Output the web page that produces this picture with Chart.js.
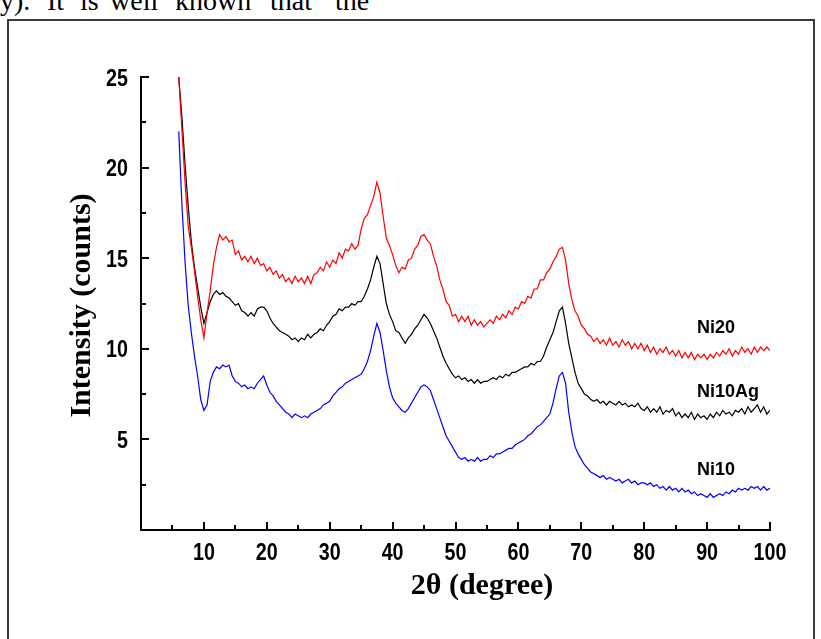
<!DOCTYPE html>
<html>
<head>
<meta charset="utf-8">
<title>XRD patterns</title>
<script src="https://cdn.jsdelivr.net/npm/chart.js@4.4.1/dist/chart.umd.min.js"></script>
<style>
	html, body { margin: 0; padding: 0; background: #fff; }
	#wrap { position: relative; width: 821px; height: 639px; overflow: hidden; }
	#frame { position: absolute; left: 7px; top: 19px; width: 804px; height: 700px; border: 2px solid #3a3a3a; }
	.word { position: absolute; top: -13px; font-family: "Liberation Serif", "Times New Roman", serif; font-size: 28px; line-height: 28px; white-space: pre; }
	canvas { position: absolute; left: 0; top: 0; }
</style>
</head>
<body>
<div id="wrap">
	<span class="word" style="left:0px">y).</span>
	<span class="word" style="left:47px">It</span>
	<span class="word" style="left:80px">is</span>
	<span class="word" style="left:110px">well</span>
	<span class="word" style="left:175px">known</span>
	<span class="word" style="left:270px">that</span>
	<span class="word" style="left:335px">the</span>
	<div id="frame"></div>
	<canvas id="xrdChart" width="821" height="639"></canvas>
</div>
<script>
// 2theta grid: first angle and step (degrees)
const thetaStart = 6;
const thetaStep = 0.5;

// intensities, one value per 0.5 degree from 6 to 100
const ni20 = [
	25.0, 22.1, 19.2, 16.8, 15.6, 14.3, 12.9, 11.6,
	10.6, 12.0, 13.2, 14.6, 15.6, 16.3, 16.0, 16.2, 15.9, 16.0, 15.2, 15.4, 14.9, 15.1, 14.8, 15.1, 14.7, 15.0, 14.6, 14.7,
	14.3, 14.5, 14.1, 14.3, 13.9, 14.1, 13.7, 13.9, 13.6, 14.0, 13.7, 13.9, 13.6, 14.0, 13.6, 14.1, 14.2, 14.5, 14.3, 14.8,
	14.5, 14.9, 14.7, 15.3, 15.0, 15.5, 15.4, 15.8, 15.5, 15.7, 16.6, 17.2, 17.4, 17.9, 18.4, 19.2, 18.6, 17.3, 16.1, 15.7,
	15.2, 14.6, 14.2, 14.5, 14.4, 14.9, 15.0, 15.5, 15.7, 16.2, 16.3, 16.0, 15.8, 15.1, 14.6, 13.8, 13.3, 12.6, 12.4, 11.8,
	11.9, 11.5, 11.8, 11.5, 11.8, 11.3, 11.6, 11.3, 11.5, 11.2, 11.4, 11.6, 11.4, 11.8, 11.6, 11.9, 11.7, 12.1, 11.9, 12.3,
	12.2, 12.6, 12.5, 12.9, 12.8, 13.3, 13.3, 13.8, 13.8, 14.2, 14.4, 14.8, 15.1, 15.5, 15.6, 14.9, 13.6, 12.7, 12.1, 11.8,
	11.3, 11.1, 10.8, 10.7, 10.4, 10.6, 10.3, 10.5, 10.2, 10.6, 10.2, 10.4, 10.1, 10.5, 10.2, 10.4, 10.0, 10.3, 10.0, 10.3,
	9.9, 10.2, 9.8, 10.1, 9.7, 10.0, 9.8, 10.1, 9.7, 9.9, 9.6, 9.9, 9.5, 9.8, 9.5, 9.8, 9.4, 9.7, 9.5, 9.7,
	9.4, 9.7, 9.5, 9.8, 9.6, 9.9, 9.7, 10.0, 9.6, 9.9, 9.7, 10.1, 9.8, 10.0, 9.7, 10.1, 9.8, 10.1, 9.9, 10.1, 9.9
];
const ni10Ag = [
	25.0, 22.8, 20.2, 17.9, 15.9, 14.5, 13.4, 12.3,
	11.4, 12.0, 12.6, 13.0, 13.2, 13.0, 13.1, 12.9, 12.8, 12.6, 12.4, 12.5, 12.1, 12.0, 11.8, 12.0, 11.8, 12.2, 12.3, 12.3,
	12.1, 11.7, 11.4, 11.2, 11.0, 10.9, 10.8, 10.7, 10.5, 10.6, 10.4, 10.6, 10.5, 10.8, 10.6, 10.8, 10.9, 11.1, 11.0, 11.3,
	11.5, 11.8, 11.9, 12.2, 12.1, 12.3, 12.3, 12.5, 12.4, 12.6, 12.6, 12.9, 13.3, 13.8, 14.5, 15.1, 14.7, 13.6, 12.5, 11.9,
	11.5, 11.0, 10.9, 10.6, 10.3, 10.6, 10.8, 11.1, 11.3, 11.6, 11.9, 11.7, 11.4, 11.0, 10.6, 10.1, 9.6, 9.2, 8.9, 8.6,
	8.4, 8.5, 8.3, 8.4, 8.2, 8.3, 8.1, 8.3, 8.1, 8.2, 8.2, 8.3, 8.4, 8.3, 8.5, 8.4, 8.6, 8.5, 8.7, 8.7,
	8.8, 8.9, 9.0, 9.0, 9.2, 9.1, 9.3, 9.3, 9.6, 10.1, 10.5, 10.9, 11.5, 12.1, 12.3, 11.4, 10.3, 9.5, 8.7, 8.1,
	7.8, 7.5, 7.4, 7.2, 7.1, 7.2, 7.0, 7.1, 6.9, 7.1, 7.0, 6.9, 7.1, 6.9, 7.0, 6.8, 6.9, 6.8, 7.0, 6.7,
	6.6, 6.8, 6.5, 6.7, 6.5, 6.8, 6.4, 6.6, 6.5, 6.7, 6.3, 6.5, 6.2, 6.4, 6.2, 6.5, 6.1, 6.4, 6.2, 6.3,
	6.1, 6.4, 6.2, 6.5, 6.3, 6.6, 6.4, 6.5, 6.3, 6.6, 6.5, 6.7, 6.4, 6.8, 6.5, 6.7, 6.9, 6.5, 6.8, 6.4, 6.6
];
const ni10 = [
	22.0, 18.0, 14.8, 12.4, 10.9, 9.6, 8.5, 7.2,
	6.6, 6.9, 8.2, 8.7, 9.0, 8.9, 9.1, 9.0, 9.1, 8.5, 8.2, 8.1, 7.9, 8.0, 7.8, 7.9, 7.8, 8.1, 8.3, 8.5,
	8.0, 7.6, 7.4, 7.1, 6.9, 6.7, 6.5, 6.4, 6.2, 6.4, 6.3, 6.2, 6.3, 6.2, 6.4, 6.5, 6.6, 6.7, 6.9, 7.0,
	7.1, 7.4, 7.6, 7.8, 7.9, 8.1, 8.2, 8.3, 8.4, 8.5, 8.6, 8.9, 9.3, 9.9, 10.7, 11.4, 10.9, 9.9, 8.8, 7.9,
	7.3, 7.0, 6.8, 6.6, 6.5, 6.7, 7.0, 7.3, 7.6, 7.9, 8.0, 7.9, 7.7, 7.2, 6.7, 6.2, 5.7, 5.2, 4.9, 4.6,
	4.3, 4.0, 3.9, 4.0, 3.8, 3.9, 3.8, 4.0, 3.8, 3.9, 3.9, 4.1, 4.0, 4.2, 4.2, 4.3, 4.4, 4.5, 4.5, 4.7,
	4.8, 4.9, 5.0, 5.2, 5.3, 5.5, 5.7, 5.8, 6.0, 6.2, 6.4, 7.0, 7.8, 8.5, 8.7, 8.1, 6.5, 5.4, 4.6, 4.2,
	3.9, 3.6, 3.4, 3.2, 3.1, 3.0, 2.9, 3.0, 2.8, 2.9, 2.8, 2.7, 2.8, 2.6, 2.7, 2.8, 2.6, 2.7, 2.5, 2.6,
	2.6, 2.5, 2.6, 2.4, 2.5, 2.3, 2.4, 2.2, 2.4, 2.2, 2.3, 2.1, 2.3, 2.1, 2.2, 2.0, 2.1, 1.9, 2.0, 1.9,
	1.8, 2.0, 1.8, 1.9, 2.0, 1.9, 2.1, 2.0, 2.2, 2.1, 2.3, 2.2, 2.3, 2.2, 2.4, 2.3, 2.4, 2.2, 2.4, 2.2, 2.3
];

const seriesNames = ["Ni20", "Ni10Ag", "Ni10"];
const seriesColors = ["#ff0000", "#000000", "#0000ff"];
// where the sample names sit, in data units (x, baseline y)
const nameX = 88.4;
const nameY = [10.85, 7.35, 3.05];

const xMajorTicks = [10, 20, 30, 40, 50, 60, 70, 80, 90, 100];
const yMajorTicks = [5, 10, 15, 20, 25];

// the original uses a narrow bold sans; squeeze a normal bold one
const tickFont = "bold 24px 'Liberation Sans', Arial, sans-serif";
const tickSqueeze = 0.82;
const titleFont = "bold 30px 'Liberation Serif', 'Times New Roman', serif";

function toPoints(values) {
	return values.map((v, i) => ({ x: thetaStart + i * thetaStep, y: v }));
}

// ticks pointing into the plot, majors longer than minors, plus their labels
const innerTicks = {
	id: "innerTicks",
	afterDraw(chart) {
		const { ctx, chartArea, scales: { x, y } } = chart;
		ctx.save();
		ctx.strokeStyle = "#000";
		ctx.lineWidth = 2;
		ctx.beginPath();
		for (let v = 5; v <= 100; v += 5) {
			const px = Math.round(x.getPixelForValue(v));
			const len = xMajorTicks.includes(v) ? 8 : 5;
			ctx.moveTo(px, chartArea.bottom);
			ctx.lineTo(px, chartArea.bottom - len);
		}
		for (let v = 2.5; v <= 25; v += 2.5) {
			const py = Math.round(y.getPixelForValue(v));
			const len = yMajorTicks.includes(v) ? 8 : 5;
			ctx.moveTo(chartArea.left, py);
			ctx.lineTo(chartArea.left + len, py);
		}
		ctx.stroke();

		ctx.fillStyle = "#000";
		ctx.font = tickFont;
		ctx.textBaseline = "alphabetic";
		ctx.textAlign = "center";
		xMajorTicks.forEach(v => {
			ctx.save();
			ctx.translate(x.getPixelForValue(v), chartArea.bottom + 30);
			ctx.scale(tickSqueeze, 1);
			ctx.fillText(String(v), 0, 0);
			ctx.restore();
		});
		ctx.textAlign = "right";
		yMajorTicks.forEach(v => {
			ctx.save();
			ctx.translate(chartArea.left - 13, y.getPixelForValue(v) + 8.5);
			ctx.scale(tickSqueeze, 1);
			ctx.fillText(String(v), 0, 0);
			ctx.restore();
		});
		ctx.restore();
	}
};

// sample names next to the curves, plus the two axis titles
const captions = {
	id: "captions",
	afterDraw(chart) {
		const { ctx, chartArea, scales: { x, y } } = chart;
		ctx.save();
		ctx.fillStyle = "#000";
		ctx.font = "bold 18px 'Liberation Sans', Arial, sans-serif";
		ctx.textAlign = "left";
		ctx.textBaseline = "alphabetic";
		seriesNames.forEach((name, i) => {
			ctx.fillText(name, x.getPixelForValue(nameX), y.getPixelForValue(nameY[i]));
		});

		ctx.font = titleFont;
		ctx.textAlign = "center";
		ctx.textBaseline = "middle";
		ctx.fillText("2\u03b8 (degree)", chartArea.left + 341, chartArea.bottom + 56);

		ctx.translate(82, (chartArea.top + chartArea.bottom) / 2 + 2);
		ctx.rotate(-Math.PI / 2);
		ctx.fillText("Intensity (counts)", 0, 0);
		ctx.restore();
	}
};

const ctx = document.getElementById("xrdChart").getContext("2d");
new Chart(ctx, {
	type: "line",
	data: {
		datasets: [ni20, ni10Ag, ni10].map((values, i) => ({
			label: seriesNames[i],
			data: toPoints(values),
			borderColor: seriesColors[i],
			backgroundColor: seriesColors[i],
			borderWidth: 1.2,
			pointRadius: 0,
			tension: 0,
			fill: false
		}))
	},
	options: {
		responsive: false,
		animation: false,
		events: [],
		layout: { padding: { left: 0, top: 77, right: 51, bottom: 0 } },
		plugins: {
			legend: { display: false },
			tooltip: { enabled: false }
		},
		scales: {
			x: {
				type: "linear",
				min: 0,
				max: 100,
				afterFit(scale) { scale.height = 109; },
				grid: { display: false, drawTicks: false },
				border: { display: true, color: "#000", width: 2 },
				ticks: { display: false, stepSize: 10 }
			},
			y: {
				type: "linear",
				min: 0,
				max: 25,
				afterFit(scale) { scale.width = 141; },
				grid: { display: false, drawTicks: false },
				border: { display: true, color: "#000", width: 2 },
				ticks: { display: false, stepSize: 5 }
			}
		}
	},
	plugins: [innerTicks, captions]
});
</script>
</body>
</html>
